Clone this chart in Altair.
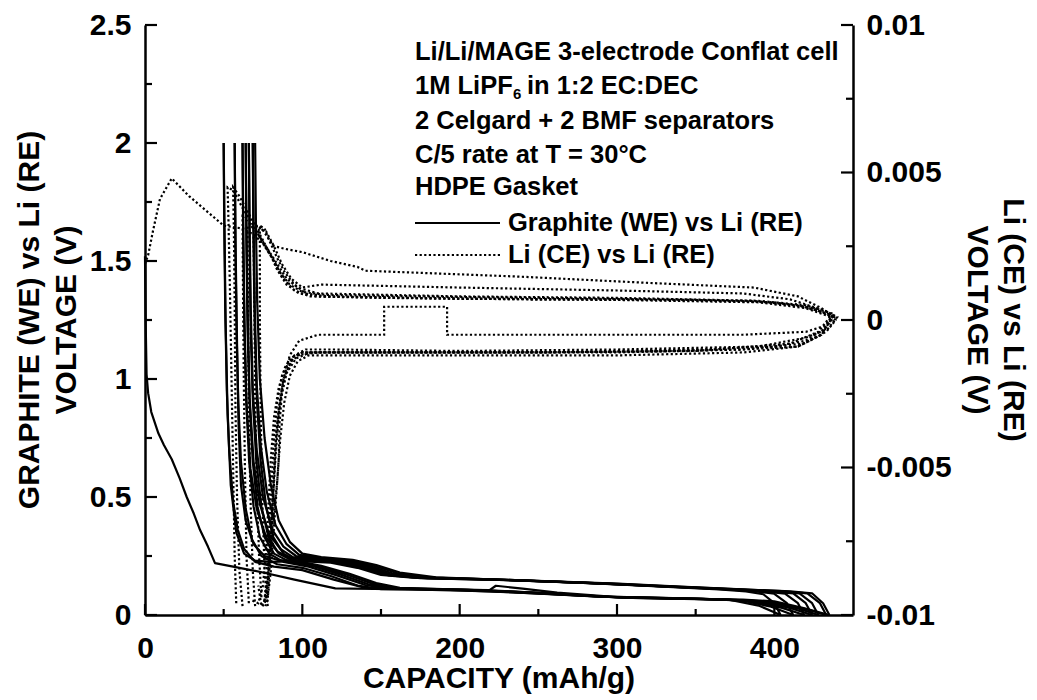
import altair as alt
import pandas as pd

# ---------------- data ----------------
# Graphite (WE) vs Li (RE): discharge (D) and charge (C) curves, (capacity mAh/g, volts)
G_D1 = [(0, 1.52), (0.4, 1.25), (1, 1.02), (2, 0.94), (4, 0.86), (8.5, 0.77), (12, 0.72), (17, 0.66),
        (22, 0.58), (26.5, 0.5), (31, 0.43), (35, 0.36), (40, 0.29), (44.5, 0.22), (56, 0.205), (75, 0.18),
        (95, 0.15), (121, 0.113), (170, 0.108), (220, 0.1),
        (270, 0.085), (310, 0.072), (380, 0.065), (400, 0.058), (418, 0.03), (435, 0.0)]
G_C1 = [(435, 0.0), (431, 0.05), (424, 0.092), (410, 0.1), (390, 0.106), (340, 0.12), (300, 0.133),
        (240, 0.147), (170, 0.158), (150, 0.17), (135, 0.2), (118, 0.222), (98, 0.228), (80, 0.225),
        (70, 0.23), (63, 0.26), (58, 0.35), (54.5, 0.55), (52.5, 0.85), (51.2, 1.25), (50.5, 1.65), (50, 2.0)]
G_D2 = [(50, 2.0), (50.3, 1.7), (51, 1.3), (52, 0.95), (53.5, 0.7), (56, 0.48), (59, 0.36), (63, 0.28),
        (70, 0.225), (82, 0.205), (100, 0.19), (120, 0.15), (140, 0.115), (190, 0.107), (230, 0.097),
        (270, 0.084), (310, 0.072), (375, 0.064), (398, 0.055), (420, 0.025), (433, 0.0)]
G_C2 = [(433, 0.0), (429, 0.05), (421, 0.092), (405, 0.101), (385, 0.107), (330, 0.122), (300, 0.132),
        (240, 0.146), (175, 0.156), (152, 0.172), (136, 0.205), (120, 0.225), (100, 0.232), (85, 0.232),
        (76, 0.25), (69, 0.3), (64, 0.4), (61, 0.55), (59.5, 0.8), (58.5, 1.15), (57.6, 1.55), (57, 2.0)]
G_D3 = [(57, 2.0), (57.4, 1.6), (58.2, 1.2), (59.3, 0.9), (61, 0.65), (64, 0.45), (68, 0.32), (74, 0.25),
        (84, 0.215), (100, 0.2), (118, 0.165), (135, 0.125), (150, 0.11), (219, 0.105), (223, 0.124),
        (240, 0.112), (262, 0.095), (300, 0.076), (370, 0.065), (395, 0.057), (415, 0.028), (428, 0.0)]
G_C3 = [(428, 0.0), (424, 0.05), (416, 0.092), (400, 0.1), (385, 0.106), (330, 0.121), (300, 0.131),
        (240, 0.146), (180, 0.155), (155, 0.168), (140, 0.2), (124, 0.226), (104, 0.236), (92, 0.24),
        (84, 0.27), (77, 0.33), (71, 0.45), (67, 0.62), (64.5, 0.9), (63.2, 1.25), (62.5, 1.6), (62, 2.0)]
G_D4 = [(62, 2.0), (62.4, 1.6), (63.2, 1.2), (64.4, 0.9), (66.2, 0.65), (69, 0.46), (73, 0.33), (79, 0.26),
        (88, 0.225), (104, 0.205), (122, 0.168), (140, 0.127), (155, 0.112), (215, 0.105), (255, 0.093),
        (300, 0.075), (365, 0.066), (390, 0.058), (410, 0.03), (424, 0.0)]
G_C4 = [(424, 0.0), (420, 0.05), (412, 0.092), (398, 0.1), (380, 0.107), (320, 0.124), (290, 0.134),
        (230, 0.149), (178, 0.157), (156, 0.172), (141, 0.205), (126, 0.228), (106, 0.238), (94, 0.245),
        (86, 0.28), (79, 0.34), (73, 0.47), (69, 0.65), (66.5, 0.92), (65.2, 1.3), (64.5, 1.65), (64, 2.0)]
G_D5 = [(64, 2.0), (64.4, 1.6), (65.2, 1.2), (66.5, 0.9), (68.5, 0.65), (71.5, 0.46), (76, 0.33), (82, 0.26),
        (92, 0.225), (108, 0.205), (125, 0.17), (142, 0.13), (158, 0.113), (210, 0.106), (250, 0.094),
        (295, 0.077), (360, 0.067), (385, 0.06), (405, 0.03), (419, 0.0)]
G_C5 = [(419, 0.0), (415, 0.05), (407, 0.09), (393, 0.1), (375, 0.107), (320, 0.124), (285, 0.135),
        (225, 0.15), (180, 0.158), (158, 0.175), (143, 0.207), (128, 0.23), (108, 0.24), (96, 0.25),
        (88, 0.29), (81, 0.36), (75, 0.5), (71, 0.7), (68.5, 0.95), (67.2, 1.3), (66.5, 1.65), (66, 2.0)]
G_D6 = [(66, 2.0), (66.4, 1.6), (67.2, 1.2), (68.6, 0.9), (70.8, 0.65), (74, 0.46), (78.5, 0.33), (85, 0.26),
        (95, 0.225), (110, 0.205), (128, 0.172), (145, 0.132), (160, 0.114), (205, 0.107), (245, 0.095),
        (290, 0.078), (355, 0.068), (380, 0.061), (398, 0.035), (412, 0.0)]
G_C6 = [(412, 0.0), (408, 0.05), (400, 0.09), (388, 0.1), (370, 0.108), (315, 0.125), (280, 0.136),
        (220, 0.151), (182, 0.159), (160, 0.178), (145, 0.21), (130, 0.232), (110, 0.242), (98, 0.255),
        (90, 0.3), (83, 0.38), (77.5, 0.52), (73.5, 0.72), (71, 0.98), (69.7, 1.32), (69, 1.66), (68.5, 2.0)]
G_D7 = [(68.5, 2.0), (68.9, 1.6), (69.8, 1.2), (71.2, 0.9), (73.5, 0.65), (77, 0.46), (81.5, 0.33), (88, 0.26),
        (97, 0.228), (112, 0.208), (130, 0.175), (147, 0.135), (162, 0.115), (200, 0.108), (240, 0.096),
        (285, 0.079), (350, 0.069), (372, 0.064), (390, 0.04), (404, 0.0)]
G_C7 = [(404, 0.0), (400, 0.05), (393, 0.088), (382, 0.1), (365, 0.108), (310, 0.126), (275, 0.137),
        (215, 0.152), (185, 0.16), (162, 0.18), (147, 0.212), (132, 0.234), (112, 0.245), (100, 0.26),
        (92, 0.31), (85, 0.4), (80, 0.55), (76, 0.75), (73, 1.0), (71.3, 1.33), (70.5, 1.66), (70, 2.0)]

# Li (CE) vs Li (RE): one path per cycle, (capacity mAh/g, volts)
LI_1 = [(0, 0.0019), (2, 0.0022), (5, 0.003), (9.5, 0.0041), (17, 0.0048), (28, 0.0042), (39, 0.0037),
        (50, 0.0032), (62, 0.0031), (73, 0.0032), (78, 0.0028), (82, 0.0025), (90, 0.0024), (100, 0.0023),
        (118, 0.002), (135, 0.0018), (140, 0.00167), (238, 0.00147), (323, 0.00125), (387, 0.0011),
        (415, 0.0008), (430, 0.0004), (438, 0.0001), (432, -0.0003), (420, -0.0007), (400, -0.0009),
        (350, -0.001), (250, -0.0011), (150, -0.0011), (100, -0.0011), (92, -0.0013), (87, -0.0019),
        (84, -0.0028), (82, -0.004), (80.5, -0.0055), (79, -0.007), (77.5, -0.0085), (76, -0.0095),
        (74, -0.0097), (72, -0.009)]
LI_2 = [(58, -0.0096), (57, -0.008), (56, -0.005), (55, -0.002), (54, 0.001), (53, 0.0035), (52.5, 0.0045),
        (56, 0.0044), (62, 0.0038), (70, 0.0031), (76, 0.0025), (82, 0.002), (88, 0.0014), (95, 0.001),
        (105, 0.0008), (150, 0.00075), (250, 0.0007), (350, 0.00068), (400, 0.0006), (425, 0.0004),
        (437, 0.0001), (430, -0.0005), (415, -0.0009), (380, -0.001), (300, -0.0011), (200, -0.0011),
        (110, -0.0011), (95, -0.0012), (89, -0.0016), (85, -0.0023), (82, -0.0033), (80, -0.0047),
        (78.5, -0.0062), (77, -0.0078), (75, -0.009), (72, -0.0096), (68, -0.0095)]
LI_3 = [(62, -0.0097), (60, -0.0085), (58.5, -0.006), (57.5, -0.003), (57, 0.0005), (56.5, 0.003), (56, 0.0045),
        (60, 0.0042), (66, 0.0036), (73, 0.0029), (79, 0.0023), (84, 0.0017), (90, 0.0012), (98, 0.0009),
        (110, 0.0008), (200, 0.00072), (300, 0.0007), (390, 0.00062), (420, 0.00045), (436, 0.00015),
        (428, -0.0004), (410, -0.0008), (350, -0.00105), (250, -0.0011), (150, -0.0011), (105, -0.0011),
        (96, -0.0013), (90, -0.0018), (86, -0.0027), (83.5, -0.0038), (82, -0.0052), (80.5, -0.0068),
        (79, -0.0082), (77, -0.0093), (75, -0.0097)]
LI_4 = [(66, -0.0096), (64.5, -0.008), (63.5, -0.005), (62.8, -0.002), (62.3, 0.001), (62, 0.0035),
        (66, 0.0033), (72, 0.0029), (78, 0.0024), (84, 0.0019), (90, 0.0014), (97, 0.0011), (110, 0.0009),
        (200, 0.0008), (300, 0.00075), (390, 0.00065), (420, 0.0005), (438, 0.0002), (432, -0.0002),
        (420, -0.0004), (380, -0.0005), (300, -0.0005), (230, -0.0005), (192, -0.0005), (192, 0.00045),
        (152, 0.00045), (152, -0.0005), (110, -0.0005), (98, -0.0007), (92, -0.0012), (88, -0.002),
        (85, -0.0032), (83, -0.0046), (81.5, -0.006), (80, -0.0075), (78, -0.0088), (76, -0.0095)]
LI_5 = [(70, -0.0097), (68.5, -0.0085), (67, -0.006), (66, -0.003), (65.5, 0.0), (65.2, 0.003), (69, 0.0029),
        (75, 0.0026), (81, 0.0021), (86, 0.0016), (92, 0.0012), (100, 0.00095), (115, 0.00085), (200, 0.00078),
        (300, 0.00072), (385, 0.00065), (415, 0.0005), (435, 0.0002), (439, 0.0), (433, -0.0004),
        (418, -0.0008), (380, -0.001), (300, -0.00108), (200, -0.0011), (120, -0.0011), (100, -0.0011),
        (93, -0.0014), (88, -0.002), (85, -0.003), (83, -0.0042), (81.5, -0.0058), (80, -0.0072),
        (78.5, -0.0086), (77, -0.0095), (74.5, -0.0097)]
LI_6 = [(74, -0.0094), (72.5, -0.008), (71, -0.0055), (70, -0.0025), (69.5, 0.0005), (69, 0.0028), (73, 0.0031),
        (77, 0.003), (82, 0.0025), (87, 0.0019), (93, 0.0014), (100, 0.0011), (112, 0.0012), (200, 0.0011),
        (300, 0.001), (380, 0.0009), (410, 0.0007), (433, 0.0003), (440, 0.0001), (434, -0.0003),
        (420, -0.0006), (390, -0.0009), (300, -0.001), (200, -0.00105), (120, -0.001), (102, -0.001),
        (95, -0.0012), (90, -0.0017), (87, -0.0025), (85.5, -0.0035), (85, -0.0047), (84, -0.0055),
        (81, -0.007), (79, -0.0085), (78, -0.0095), (76.5, -0.0097)]
LI_7 = [(78, -0.0097), (76, -0.0085), (74.5, -0.006), (73.5, -0.003), (73, 0.0), (73, 0.0032), (76, 0.0031),
        (79, 0.0027), (84, 0.0021), (89, 0.0016), (95, 0.0012), (102, 0.0009), (115, 0.0008), (200, 0.00072),
        (300, 0.00068), (390, 0.0006), (420, 0.0004), (436, 0.0001), (430, -0.0005), (415, -0.0009),
        (380, -0.0011), (300, -0.0012), (200, -0.0012), (120, -0.0012), (104, -0.0012), (97, -0.0014),
        (92, -0.0019), (88.5, -0.0028), (86, -0.004), (84, -0.0055), (82, -0.007), (80, -0.0085), (78, -0.0094)]

GRAPHITE = {"D1": G_D1, "C1": G_C1, "D2": G_D2, "C2": G_C2, "D3": G_D3, "C3": G_C3, "D4": G_D4,
            "C4": G_C4, "D5": G_D5, "C5": G_C5, "D6": G_D6, "C6": G_C6, "D7": G_D7, "C7": G_C7}
LITHIUM = {"L1": LI_1, "L2": LI_2, "L3": LI_3, "L4": LI_4, "L5": LI_5, "L6": LI_6, "L7": LI_7}

X_MAJOR = [0, 100, 200, 300, 400]
X_MINOR = [50, 150, 250, 350]
YL_MAJOR = [0, 0.5, 1, 1.5, 2, 2.5]
YL_MINOR = [0.25, 0.75, 1.25, 1.75, 2.25]
YR_MAJOR = [-0.01, -0.005, 0, 0.005, 0.01]
YR_MINOR = [-0.0075, -0.0025, 0.0025, 0.0075]

NOTE_LINES = ["Li/Li/MAGE 3-electrode Conflat cell", "1M LiPF", "6", "in 1:2 EC:DEC",
              "2 Celgard + 2 BMF separators", "C/5 rate at T = 30°C", "HDPE Gasket"]
LEGEND_LABELS = ["Graphite (WE) vs Li (RE)", "Li (CE) vs Li (RE)"]
X_TITLE = "CAPACITY (mAh/g)"
YL_TITLE = ["GRAPHITE (WE) vs Li (RE)", "VOLTAGE (V)"]
YR_TITLE = ["Li (CE) vs Li (RE)", "VOLTAGE (V)"]


def to_df(curves, vname):
    rows = []
    for name, pts in curves.items():
        for i, (c, v) in enumerate(pts):
            rows.append({"series": name, "order": i, "cap": c, vname: v})
    return pd.DataFrame(rows)


gdf = to_df(GRAPHITE, "volt")
ldf = to_df(LITHIUM, "v")

W, H = 708, 590
FONT = "Liberation Sans, Arial, Helvetica, sans-serif"
DASH = [2.2, 2.4]

xscale = alt.Scale(domain=[0, 450], nice=False, zero=False)
ylscale = alt.Scale(domain=[0, 2.5], nice=False, zero=False)
yrscale = alt.Scale(domain=[-0.01, 0.01], nice=False, zero=False)

common_axis = dict(grid=False, ticks=False, tickSize=0, domainColor="black", domainWidth=2.5,
                   labelFont=FONT, labelFontSize=30, labelFontWeight="bold", labelColor="black",
                   title=None, labelFlush=False, labelOverlap=False)
xaxis = alt.Axis(values=X_MAJOR, format="d", labelPadding=18, **common_axis)
ylaxis = alt.Axis(values=YL_MAJOR, format="~g", labelPadding=14, orient="left", **common_axis)
yraxis = alt.Axis(values=YR_MAJOR, orient="right", labelPadding=13,
                  labelExpr="datum.value > 0.0000001 ? format(datum.value, '~g') : (datum.value < -0.0000001 ? '-' + format(-datum.value, '~g') : '0')",
                  **common_axis)

X = lambda f: alt.X(f, type="quantitative", scale=xscale, axis=xaxis)
YL = lambda f: alt.Y(f, type="quantitative", scale=ylscale, axis=ylaxis)
YR = lambda f: alt.Y(f, type="quantitative", scale=yrscale, axis=yraxis)

g_lines = alt.Chart(gdf).mark_line(color="black", strokeWidth=2.2, strokeJoin="round").encode(
    x=X("cap"), y=YL("volt"), detail="series:N", order="order:Q")

xt_major = alt.Chart(pd.DataFrame({"t": X_MAJOR})).mark_rule(color="black", strokeWidth=2.2).encode(
    x=X("t"), y=alt.value(H), y2=alt.value(H - 11))
xt_minor = alt.Chart(pd.DataFrame({"t": X_MINOR})).mark_rule(color="black", strokeWidth=2.2).encode(
    x=X("t"), y=alt.value(H), y2=alt.value(H - 6))
yl_major = alt.Chart(pd.DataFrame({"t": YL_MAJOR})).mark_rule(color="black", strokeWidth=2.2).encode(
    y=YL("t"), x=alt.value(0), x2=alt.value(12))
yl_minor = alt.Chart(pd.DataFrame({"t": YL_MINOR})).mark_rule(color="black", strokeWidth=2.2).encode(
    y=YL("t"), x=alt.value(0), x2=alt.value(7))

one = pd.DataFrame({"a": [0]})


def txt(s, x, y, size=25, angle=0, align="left"):
    return alt.Chart(one).mark_text(text=s, font=FONT, fontSize=size, fontWeight="bold", color="black",
                                    align=align, baseline="middle", angle=angle).encode(
        x=alt.value(x), y=alt.value(y))


notes = [
    txt(NOTE_LINES[0], 270, 27, size=25.5),
    txt(NOTE_LINES[1], 270, 61, size=25.5),
    txt(NOTE_LINES[2], 368, 69, size=15),
    txt(NOTE_LINES[3], 382, 61, size=25.5),
    txt(NOTE_LINES[4], 270, 96, size=25.5),
    txt(NOTE_LINES[5], 270, 130, size=25.5),
    txt(NOTE_LINES[6], 270, 162, size=25.5),
    txt(LEGEND_LABELS[0], 363, 198, size=25.5),
    txt(LEGEND_LABELS[1], 363, 230, size=25.5),
    txt(X_TITLE, W / 2, 654, size=30, align="center"),
    txt(YL_TITLE[0], -115, H / 2, size=30, angle=270, align="center"),
    txt(YL_TITLE[1], -78, H / 2, size=30, angle=270, align="center"),
    txt(YR_TITLE[0], 868, H / 2, size=30, angle=90, align="center"),
    txt(YR_TITLE[1], 832, H / 2, size=30, angle=90, align="center"),
]
leg_solid = alt.Chart(one).mark_rule(color="black", strokeWidth=2.2).encode(
    x=alt.value(270), x2=alt.value(355), y=alt.value(198))
leg_dot = alt.Chart(one).mark_rule(color="black", strokeWidth=2, strokeDash=DASH).encode(
    x=alt.value(270), x2=alt.value(355), y=alt.value(230))

left = alt.layer(g_lines, xt_major, xt_minor, yl_major, yl_minor, leg_solid, leg_dot, *notes)

li_lines = alt.Chart(ldf).mark_line(color="black", strokeWidth=2.2, strokeDash=DASH).encode(
    x=X("cap"), y=YR("v"), detail="series:N", order="order:Q")
yr_major = alt.Chart(pd.DataFrame({"t": YR_MAJOR})).mark_rule(color="black", strokeWidth=2.2).encode(
    y=YR("t"), x=alt.value(W), x2=alt.value(W - 12))
yr_minor = alt.Chart(pd.DataFrame({"t": YR_MINOR})).mark_rule(color="black", strokeWidth=2.2).encode(
    y=YR("t"), x=alt.value(W), x2=alt.value(W - 7))
right = alt.layer(li_lines, yr_major, yr_minor)

chart = alt.layer(left, right).resolve_scale(y="independent").properties(
    width=W, height=H,
    autosize=alt.AutoSizeParams(type="none"),
    padding={"left": 145, "top": 25, "right": 184, "bottom": 85},
    background="white",
).configure_view(stroke=None)

chart.save("out.html", embed_options={"renderer": "svg", "actions": False})
